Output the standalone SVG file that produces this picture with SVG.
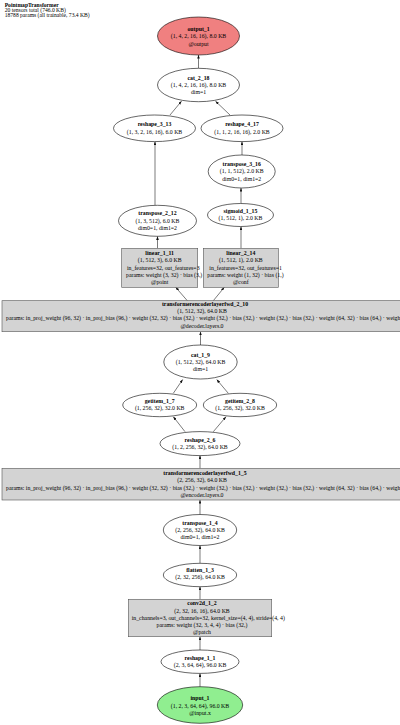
<svg xmlns="http://www.w3.org/2000/svg" width="400" height="725" viewBox="0 0 400 725">
<defs>
<style>
text{font-family:"Liberation Serif","Times New Roman",serif;font-size:5.8px;fill:#000;text-anchor:middle}
.b{font-weight:bold}
.s{text-anchor:start}
.hd{font-size:5.6px;text-anchor:start}
ellipse{fill:#fff;stroke:#000;stroke-width:0.6}
.box{fill:#d3d3d3;stroke:#555;stroke-width:0.6}
#edges line{stroke:#222;stroke-width:0.6;marker-end:url(#ah)}
</style>
<marker id="ah" viewBox="0 0 8 6" refX="8" refY="3" markerWidth="3.6" markerHeight="2.8" markerUnits="userSpaceOnUse" orient="auto"><path d="M0,0 L8,3 L0,6 z" fill="#111"/></marker>
</defs>
<rect width="400" height="725" fill="#fff"/>
<g id="header">
<text class="hd b" x="4.7" y="7.2">PointmapTransformer</text>
<text class="hd" x="4.7" y="12.2">20 tensors total (746.0 KB)</text>
<text class="hd" x="4.7" y="17.2">18788 params (all trainable, 73.4 KB)</text>
</g>
<g id="edges">
<line x1="198.5" y1="68.3" x2="198.5" y2="55"/>
<line x1="170" y1="115" x2="181.5" y2="101.2"/>
<line x1="230" y1="115" x2="215.5" y2="101.2"/>
<line x1="242" y1="155" x2="242" y2="141.6"/>
<line x1="155" y1="205" x2="155" y2="141.6"/>
<line x1="241" y1="203.5" x2="241" y2="188"/>
<line x1="157.5" y1="248.3" x2="157.5" y2="236.3"/>
<line x1="241" y1="248.3" x2="241" y2="226.5"/>
<line x1="187.3" y1="300.7" x2="175.7" y2="287.3"/>
<line x1="213.3" y1="300.7" x2="224.3" y2="287.3"/>
<line x1="200.5" y1="345" x2="200.5" y2="331.7"/>
<line x1="173.3" y1="393.3" x2="182.7" y2="379.5"/>
<line x1="228.3" y1="393.3" x2="216.7" y2="379.5"/>
<line x1="185" y1="431.7" x2="173.3" y2="416.7"/>
<line x1="213.3" y1="431.7" x2="226" y2="416.7"/>
<line x1="200" y1="468.3" x2="200" y2="455.5"/>
<line x1="200" y1="514.5" x2="200" y2="500"/>
<line x1="200" y1="563.3" x2="200" y2="545.5"/>
<line x1="200" y1="599.3" x2="200" y2="586.7"/>
<line x1="200" y1="650" x2="200" y2="636.7"/>
<line x1="200" y1="686.7" x2="200" y2="673.4"/>
</g>
<g id="output_1">
<ellipse cx="198.5" cy="36" rx="41" ry="19" style="fill:#f08080"/>
<text class="b" x="198.5" y="31.2">output_1</text>
<text x="198.5" y="38.4">(1, 4, 2, 16, 16), 8.0 KB</text>
<text x="198.5" y="45.6">@output</text>
</g>
<g id="cat_2_18">
<ellipse cx="198.5" cy="85" rx="41" ry="16.7"/>
<text class="b" x="198.5" y="79.6">cat_2_18</text>
<text x="198.5" y="86.8">(1, 4, 2, 16, 16), 8.0 KB</text>
<text x="198.5" y="94">dim=1</text>
</g>
<g id="reshape_3_13">
<ellipse cx="154.5" cy="128.3" rx="41" ry="13.3"/>
<text class="b" x="154.5" y="126.3">reshape_3_13</text>
<text x="154.5" y="133.5">(1, 3, 2, 16, 16), 6.0 KB</text>
</g>
<g id="reshape_4_17">
<ellipse cx="242" cy="128.3" rx="41" ry="13.3"/>
<text class="b" x="242" y="126.3">reshape_4_17</text>
<text x="242" y="133.5">(1, 1, 2, 16, 16), 2.0 KB</text>
</g>
<g id="transpose_3_16">
<ellipse cx="241.7" cy="171.5" rx="33.5" ry="16.5"/>
<text class="b" x="241.7" y="166.1">transpose_3_16</text>
<text x="241.7" y="173.3">(1, 1, 512), 2.0 KB</text>
<text x="241.7" y="180.5">dim0=1, dim1=2</text>
</g>
<g id="transpose_2_12">
<ellipse cx="157.5" cy="220.8" rx="39" ry="15.5"/>
<text class="b" x="157.5" y="215.4">transpose_2_12</text>
<text x="157.5" y="222.6">(1, 3, 512), 6.0 KB</text>
<text x="157.5" y="229.8">dim0=1, dim1=2</text>
</g>
<g id="sigmoid_1_15">
<ellipse cx="240.5" cy="215" rx="33" ry="11.5"/>
<text class="b" x="240.5" y="213.2">sigmoid_1_15</text>
<text x="240.5" y="220.4">(1, 512, 1), 2.0 KB</text>
</g>
<g id="linear_1_11">
<rect class="box" x="121.7" y="248.3" width="76" height="39"/>
<text class="b" x="159.7" y="255.2">linear_1_11</text>
<text x="159.7" y="262.4">(1, 512, 3), 6.0 KB</text>
<text class="s" x="127" y="269.6">in_features=32, out_features=3</text>
<text class="s" x="126" y="276.8">params: weight (3, 32) · bias (3,)</text>
<text x="159.7" y="284">@point</text>
</g>
<g id="linear_2_14">
<rect class="box" x="203.3" y="248.3" width="75" height="39"/>
<text class="b" x="240.8" y="255.2">linear_2_14</text>
<text x="240.8" y="262.4">(1, 512, 1), 2.0 KB</text>
<text class="s" x="209.3" y="269.6">in_features=32, out_features=1</text>
<text class="s" x="207.3" y="276.8">params: weight (1, 32) · bias (1,)</text>
<text x="240.8" y="284">@conf</text>
</g>
<g id="transformerencoderlayerfwd_2_10">
<rect class="box" x="2" y="300.7" width="410" height="31"/>
<text class="b" x="205" y="306">transformerencoderlayerfwd_2_10</text>
<text x="202" y="313.2">(1, 512, 32), 64.0 KB</text>
<text class="s" x="6" y="320.4">params: in_proj_weight (96, 32) · in_proj_bias (96,) · weight (32, 32) · bias (32,) · weight (32,) · bias (32,) · weight (32,) · bias (32,) · weight (64, 32) · bias (64,) · weight (32, 64) · bias (32,)</text>
<text x="202" y="327.6">@decoder.layers.0</text>
</g>
<g id="cat_1_9">
<ellipse cx="200.5" cy="362" rx="36.7" ry="17"/>
<text class="b" x="200.5" y="356.6">cat_1_9</text>
<text x="200.5" y="363.8">(1, 512, 32), 64.0 KB</text>
<text x="200.5" y="371">dim=1</text>
</g>
<g id="getitem_1_7">
<ellipse cx="159.7" cy="405" rx="37" ry="11.7"/>
<text class="b" x="159.7" y="403.2">getitem_1_7</text>
<text x="159.7" y="410.4">(1, 256, 32), 32.0 KB</text>
</g>
<g id="getitem_2_8">
<ellipse cx="240" cy="405" rx="36.7" ry="11.7"/>
<text class="b" x="240" y="403.2">getitem_2_8</text>
<text x="240" y="410.4">(1, 256, 32), 32.0 KB</text>
</g>
<g id="reshape_2_6">
<ellipse cx="200" cy="443.6" rx="40" ry="12"/>
<text class="b" x="200" y="441.8">reshape_2_6</text>
<text x="200" y="449">(1, 2, 256, 32), 64.0 KB</text>
</g>
<g id="transformerencoderlayerfwd_1_5">
<rect class="box" x="2" y="468.3" width="410" height="31.7"/>
<text class="b" x="205" y="475.2">transformerencoderlayerfwd_1_5</text>
<text x="202" y="482.4">(2, 256, 32), 64.0 KB</text>
<text class="s" x="6" y="489.6">params: in_proj_weight (96, 32) · in_proj_bias (96,) · weight (32, 32) · bias (32,) · weight (32,) · bias (32,) · weight (32,) · bias (32,) · weight (64, 32) · bias (64,) · weight (32, 64) · bias (32,)</text>
<text x="202" y="496.8">@encoder.layers.0</text>
</g>
<g id="transpose_1_4">
<ellipse cx="200" cy="530" rx="36.7" ry="15.5"/>
<text class="b" x="200" y="524.6">transpose_1_4</text>
<text x="200" y="531.8">(2, 256, 32), 64.0 KB</text>
<text x="200" y="539">dim0=1, dim1=2</text>
</g>
<g id="flatten_1_3">
<ellipse cx="200" cy="575" rx="36.7" ry="11.7"/>
<text class="b" x="200" y="572.4">flatten_1_3</text>
<text x="200" y="579.4">(2, 32, 256), 64.0 KB</text>
</g>
<g id="conv2d_1_2">
<rect class="box" x="128.3" y="599.3" width="143.4" height="37.4"/>
<text class="b" x="202" y="605.4">conv2d_1_2</text>
<text x="202" y="612.6">(2, 32, 16, 16), 64.0 KB</text>
<text class="s" x="131.7" y="619.8">in_channels=3, out_channels=32, kernel_size=(4, 4), stride=(4, 4)</text>
<text x="202" y="627">params: weight (32, 3, 4, 4) · bias (32,)</text>
<text x="202" y="634.2">@patch</text>
</g>
<g id="reshape_1_1">
<ellipse cx="200" cy="661.7" rx="39" ry="11.7"/>
<text class="b" x="200" y="660.3">reshape_1_1</text>
<text x="200" y="667.3">(2, 3, 64, 64), 96.0 KB</text>
</g>
<g id="input_1">
<ellipse cx="200" cy="705" rx="42.7" ry="18.3" style="fill:#90ee90"/>
<text class="b" x="200" y="700.3">input_1</text>
<text x="200" y="707.5">(1, 2, 3, 64, 64), 96.0 KB</text>
<text x="200" y="714.7">@input.x</text>
</g>
</svg>
